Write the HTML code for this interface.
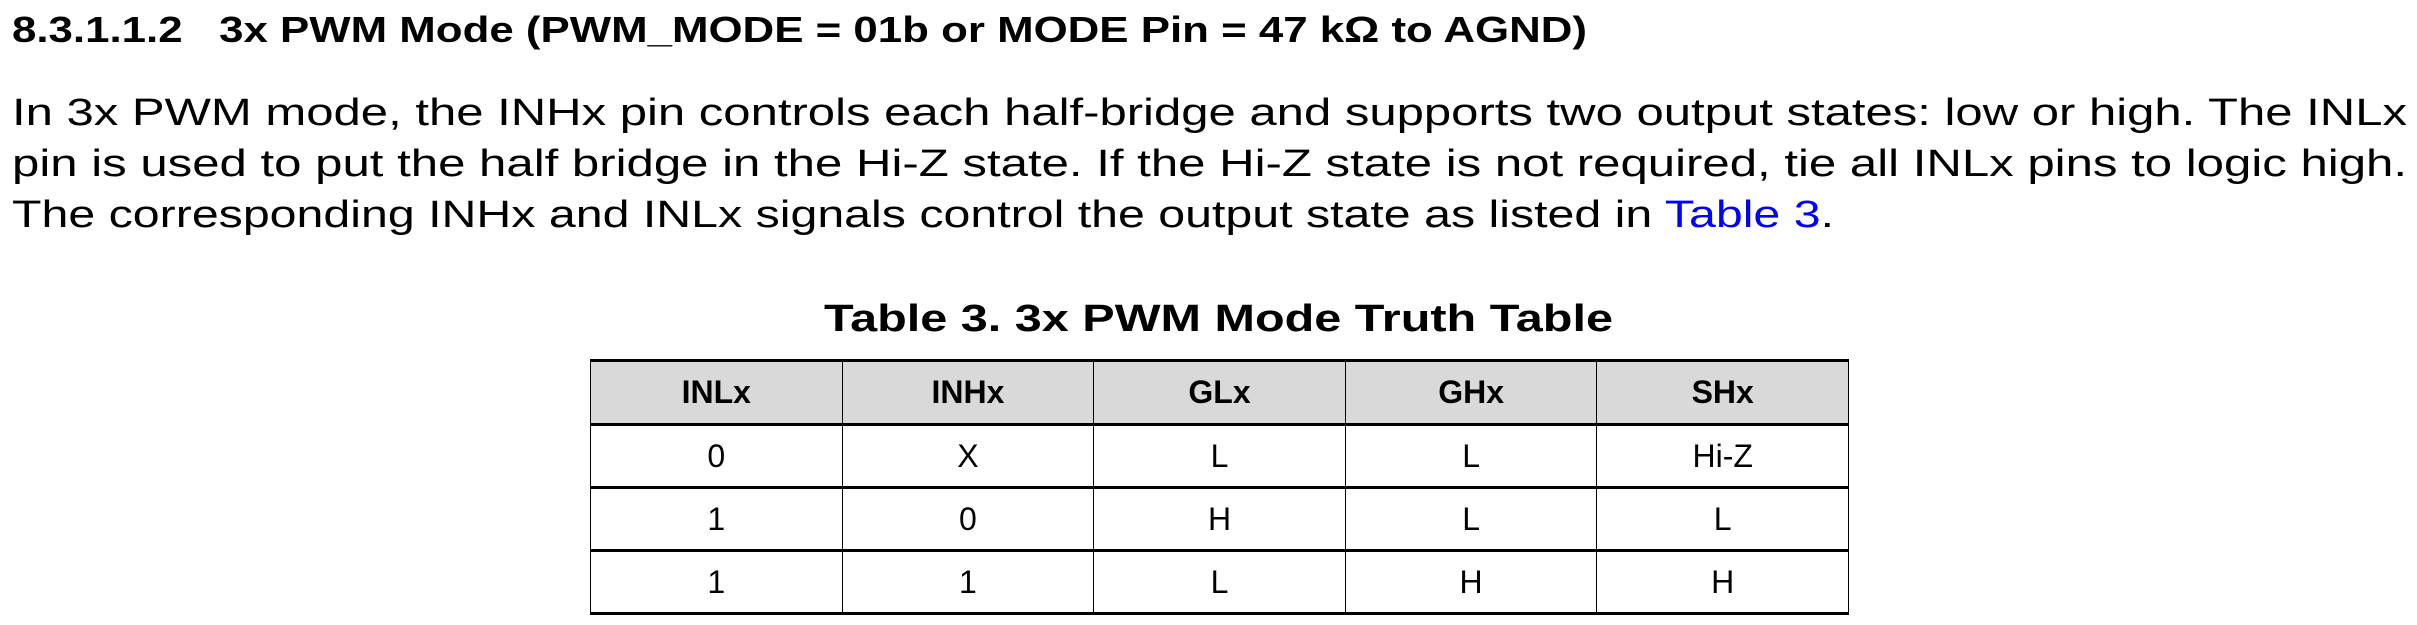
<!DOCTYPE html>
<html><head><meta charset="utf-8"><style>
html,body{margin:0;padding:0;background:#fff;width:2417px;height:625px;overflow:hidden;position:relative;font-family:"Liberation Sans",Arial,sans-serif;color:#000}
.l{position:absolute;white-space:nowrap;transform-origin:0 0;line-height:1}
.h{font-weight:bold;font-size:36px}
.p{font-size:38px}
a{color:#0000ff;text-decoration:none}
table{position:absolute;left:590px;top:359px;border-collapse:collapse;width:1259px}
td{height:60px;text-align:center;font-size:32px;border-left:1.5px solid #000;border-right:1.5px solid #000;border-bottom:3px solid #000;padding:0;width:252px}
tr.hd td{background:#d9d9d9;font-weight:bold;height:61px;border-top:3px solid #000}
</style></head><body>
<div class="l h" data-w="1575" style="left:12px;top:12px">8.3.1.1.2&nbsp;&nbsp;&nbsp;3x PWM Mode (PWM_MODE = 01b or MODE Pin = 47 kΩ to AGND)</div>
<div class="l p" data-w="2395" style="left:12px;top:94px">In 3x PWM mode, the INHx pin controls each half-bridge and supports two output states: low or high. The INLx</div>
<div class="l p" data-w="2395" style="left:12px;top:145px">pin is used to put the half bridge in the Hi-Z state. If the Hi-Z state is not required, tie all INLx pins to logic high.</div>
<div class="l p" data-w="1822" style="left:12px;top:196px">The corresponding INHx and INLx signals control the output state as listed in <a>Table 3</a>.</div>
<div class="l h" data-w="789" style="left:824px;top:300px;font-size:38px">Table 3. 3x PWM Mode Truth Table</div>
<table>
<tr class="hd"><td>INLx</td><td>INHx</td><td>GLx</td><td>GHx</td><td>SHx</td></tr>
<tr><td>0</td><td>X</td><td>L</td><td>L</td><td>Hi-Z</td></tr>
<tr><td>1</td><td>0</td><td>H</td><td>L</td><td>L</td></tr>
<tr><td>1</td><td>1</td><td>L</td><td>H</td><td>H</td></tr>
</table>
<script>
document.querySelectorAll('.l').forEach(function(e){var w=+e.dataset.w;var r=e.getBoundingClientRect().width;if(r>0)e.style.transform='scaleX('+(w/r)+')';});
</script>
</body></html>
